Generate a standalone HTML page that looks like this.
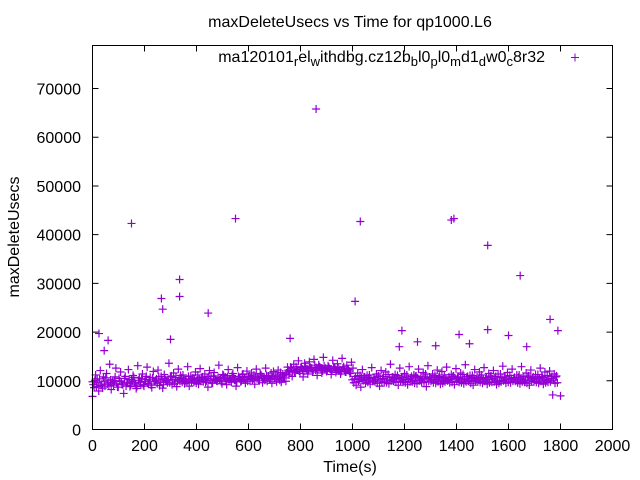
<!DOCTYPE html>
<html><head><meta charset="utf-8"><style>
body{margin:0;background:#fff}
svg{display:block;font-family:"Liberation Sans",sans-serif}
</style></head><body>
<svg id="c" width="640" height="480" xmlns="http://www.w3.org/2000/svg">
<text x="350" y="27" font-size="16" text-anchor="middle">maxDeleteUsecs vs Time for qp1000.L6</text>
<text transform="translate(19,237) rotate(-90)" font-size="16" text-anchor="middle">maxDeleteUsecs</text>
<text x="350" y="472" font-size="16" text-anchor="middle">Time(s)</text>
<g>
<text x="545" y="62" font-size="16" text-anchor="end">ma120101<tspan font-size="13" dy="4">r</tspan><tspan dy="-4">el</tspan><tspan font-size="13" dy="4">w</tspan><tspan dy="-4">ithdbg.cz12b</tspan><tspan font-size="13" dy="4">b</tspan><tspan dy="-4">l0</tspan><tspan font-size="13" dy="4">p</tspan><tspan dy="-4">l0</tspan><tspan font-size="13" dy="4">m</tspan><tspan dy="-4">d1</tspan><tspan font-size="13" dy="4">d</tspan><tspan dy="-4">w0</tspan><tspan font-size="13" dy="4">c</tspan><tspan dy="-4">8r32</tspan></text>
<path d="M571 57.5h8M575 53.5v8" stroke="#9400d3" stroke-width="1"/>
</g>
<g id="axes"></g>
<g id="pts"></g>
<rect x="92.5" y="45.5" width="520" height="384" fill="none" stroke="#000"/>
</svg>
<script>
const xTicks=[0,200,400,600,800,1000,1200,1400,1600,1800,2000];
const yTicks=[0,10000,20000,30000,40000,50000,60000,70000];
const bandStep=6;
const maxDeleteK=[9.8,8.6,11.2,10.4,7.9,12.1,9.3,10.8,8.9,11.5,9.6,13.4,8.2,10.1,9.9,12.6,8.7,10.5,11.8,9.2,7.4,10.9,9.5,12.3,8.8,10.2,11.1,9.7,8.4,13.1,10.6,9.1,11.4,8.9,10.3,12.8,9.4,10.7,8.6,11.9,9.8,10.4,12.2,9.0,10.9,8.5,11.3,10.1,9.6,13.6,10.8,9.2,11.6,10.3,8.8,12.4,9.9,10.6,11.2,9.4,10.1,12.9,8.9,11.0,10.5,9.7,11.8,10.2,9.3,12.5,10.7,9.8,11.4,10.0,8.7,12.1,10.9,9.5,11.7,10.3,9.9,13.2,10.6,9.4,11.1,10.8,9.2,12.3,10.4,9.7,11.5,10.1,8.9,12.7,10.6,9.8,11.3,10.2,9.5,12.0,10.9,9.9,11.6,10.4,9.3,12.4,10.7,10.0,11.2,9.6,10.8,12.6,9.9,11.0,10.3,9.5,11.9,10.5,9.8,12.2,10.1,9.7,11.4,10.6,9.9,12.8,
11.2,12.8,10.9,13.4,11.7,12.3,14.1,11.5,12.9,10.8,13.6,12.1,11.4,13.9,12.6,11.8,14.4,12.2,11.1,13.3,12.7,11.6,14.8,12.4,11.9,13.1,12.5,11.3,14.2,12.8,11.7,13.5,12.0,11.4,14.6,12.9,11.8,13.2,12.3,11.5,13.8,12.6,
10.4,9.1,11.6,10.2,8.7,12.3,10.8,9.5,11.1,10.6,9.3,12.7,10.1,9.8,11.4,10.9,8.9,12.1,10.5,9.6,11.8,10.2,9.4,13.4,10.7,9.9,11.3,10.4,9.1,12.6,10.8,9.7,11.5,10.3,9.2,12.9,10.6,9.8,11.2,10.9,9.4,12.4,10.1,9.6,11.7,10.5,8.8,13.1,10.8,9.9,11.4,10.2,9.5,12.2,10.7,9.3,11.9,10.4,9.8,12.8,10.1,9.6,11.3,10.9,9.2,12.5,10.6,9.7,11.6,10.3,9.4,13.3,10.8,9.9,11.1,10.5,9.1,12.3,10.2,9.8,11.8,10.7,9.5,12.7,10.4,9.3,11.5,10.9,9.7,12.1,10.6,9.2,11.4,10.1,9.8,13.0,10.8,9.5,11.7,10.3,9.6,12.4,10.5,9.9,11.2,10.7,9.4,12.9,10.2,9.7,11.6,10.8,9.1,12.2,10.4,9.8,11.3,10.6,9.5,12.6,10.9,9.3,11.8,10.1,9.7,12.0,10.5,7.1,11.4,10.8,9.6];
const coreDeleteK=[9.2,10.1,8.8,9.6,10.4,9.0,8.5,9.9,10.6,9.3,8.9,10.2,9.7,9.1,10.8,9.4,8.7,10.0,9.8,9.2,10.5,8.9,9.6,10.3,9.1,9.9,10.7,9.4,8.8,10.1,9.7,10.4,9.2,9.9,10.9,9.5,10.2,9.1,10.6,9.8,10.0,9.4,10.8,9.7,10.3,9.2,10.5,9.9,10.1,9.6,11.0,10.3,9.5,10.7,9.9,10.2,11.1,9.7,10.4,10.0,9.6,10.9,10.2,9.8,10.6,10.1,9.5,11.2,10.4,9.9,10.8,10.3,9.7,10.5,10.9,10.1,9.6,11.0,10.4,10.0,10.7,10.2,9.8,11.3,10.5,10.1,10.8,9.9,10.3,11.1,10.6,10.2,9.8,10.9,10.4,10.0,11.4,10.7,10.3,9.9,11.0,10.6,10.2,11.2,10.8,10.4,10.0,11.5,10.9,10.5,10.1,11.1,10.7,10.3,11.6,10.9,10.5,11.2,10.8,10.4,11.7,11.0,10.6,11.3,
11.6,12.2,11.9,12.6,12.1,11.8,12.9,12.3,12.0,12.7,12.4,11.9,13.0,12.5,12.2,12.8,12.6,12.1,13.2,12.7,12.3,12.9,12.5,12.0,13.1,12.6,12.2,12.8,12.4,12.0,12.9,12.5,12.1,12.7,12.3,11.9,12.6,12.2,11.8,12.4,12.0,11.6,
10.2,9.6,10.9,10.4,9.8,11.1,10.6,10.0,10.8,10.3,9.7,11.2,10.5,9.9,10.7,10.1,9.5,11.0,10.4,9.8,10.9,10.2,9.6,11.3,10.6,10.0,10.8,10.3,9.7,11.1,10.5,9.9,10.7,10.2,9.6,11.2,10.4,9.8,10.9,10.1,9.5,11.0,10.6,10.0,10.8,10.3,9.7,11.4,10.5,9.9,10.7,10.2,9.6,11.1,10.4,9.8,10.9,10.1,9.5,11.2,10.6,10.0,10.8,10.3,9.7,11.0,10.5,9.9,10.7,10.2,9.6,11.3,10.4,9.8,10.9,10.1,9.5,11.1,10.6,10.0,10.8,10.3,9.7,11.2,10.5,9.9,10.7,10.2,9.6,11.0,10.4,9.8,10.9,10.1,9.5,11.4,10.6,10.0,10.8,10.3,9.7,11.1,10.5,9.9,10.7,10.2,9.6,11.2,10.4,9.8,10.9,10.1,9.5,11.0,10.6,10.0,10.8,10.3,9.7,11.3,10.5,9.9,10.7,10.2,9.6,11.1,10.4,9.8,10.9,10.1,9.5,11.0];
const outlierTime=[150,550,860,1030,1380,1390,1520,1645,1010,265,270,335,335,445,25,60,1520,1190,1790,1760,1600,1410,300,760,1670,1450,1180,1250,1320,45,0,1800];
const outlierUsecs=[42300,43300,65800,42700,43000,43300,37800,31600,26300,26900,24700,30800,27300,23900,19700,18300,20500,20300,20300,22600,19300,19500,18500,18700,17000,17600,17000,18000,17200,16200,6800,6900];
const X0=92.5,X1=612.5,Y0=429.5,YPER=48.71/10000;
const sx=v=>X0+(X1-X0)*v/2000;
const sy=v=>Y0-v*YPER;
const NS="http://www.w3.org/2000/svg";
const axes=document.getElementById('axes'),pts=document.getElementById('pts');
function mk(tag,attrs,parent){const e=document.createElementNS(NS,tag);for(const k in attrs)e.setAttribute(k,attrs[k]);parent.appendChild(e);return e;}
xTicks.forEach(t=>{
  const x=sx(t);
  const p=mk('path',{d:`M${x} ${Y0}v-6M${x} 45.5v6`,stroke:'#000'},axes);
  
  
  const l=mk('text',{x:x,y:451,'font-size':16,'text-anchor':'middle'},axes);l.textContent=t;
  
  
});
yTicks.forEach(t=>{
  const y=sy(t);
  const p=mk('path',{d:`M${X0} ${y}h6M${X1} ${y}h-6`,stroke:'#000'},axes);
  
  
  const l=mk('text',{x:81,y:y+6,'font-size':16,'text-anchor':'end'},axes);l.textContent=t;
  
  
});
let d='';
const plus=(x,y)=>`M${x-4} ${y}h8M${x} ${y-4}v8`;
maxDeleteK.forEach((v,i)=>{d+=plus(sx(i*bandStep),sy(v*1000));});
coreDeleteK.forEach((v,i)=>{d+=plus(sx(i*bandStep+3),sy(v*1000));});
outlierTime.forEach((t,i)=>{d+=plus(sx(t),sy(outlierUsecs[i]));});
const path=mk('path',{d:d,stroke:'#9400d3','stroke-width':1.2,fill:'none'},pts);


</script>
</body></html>
